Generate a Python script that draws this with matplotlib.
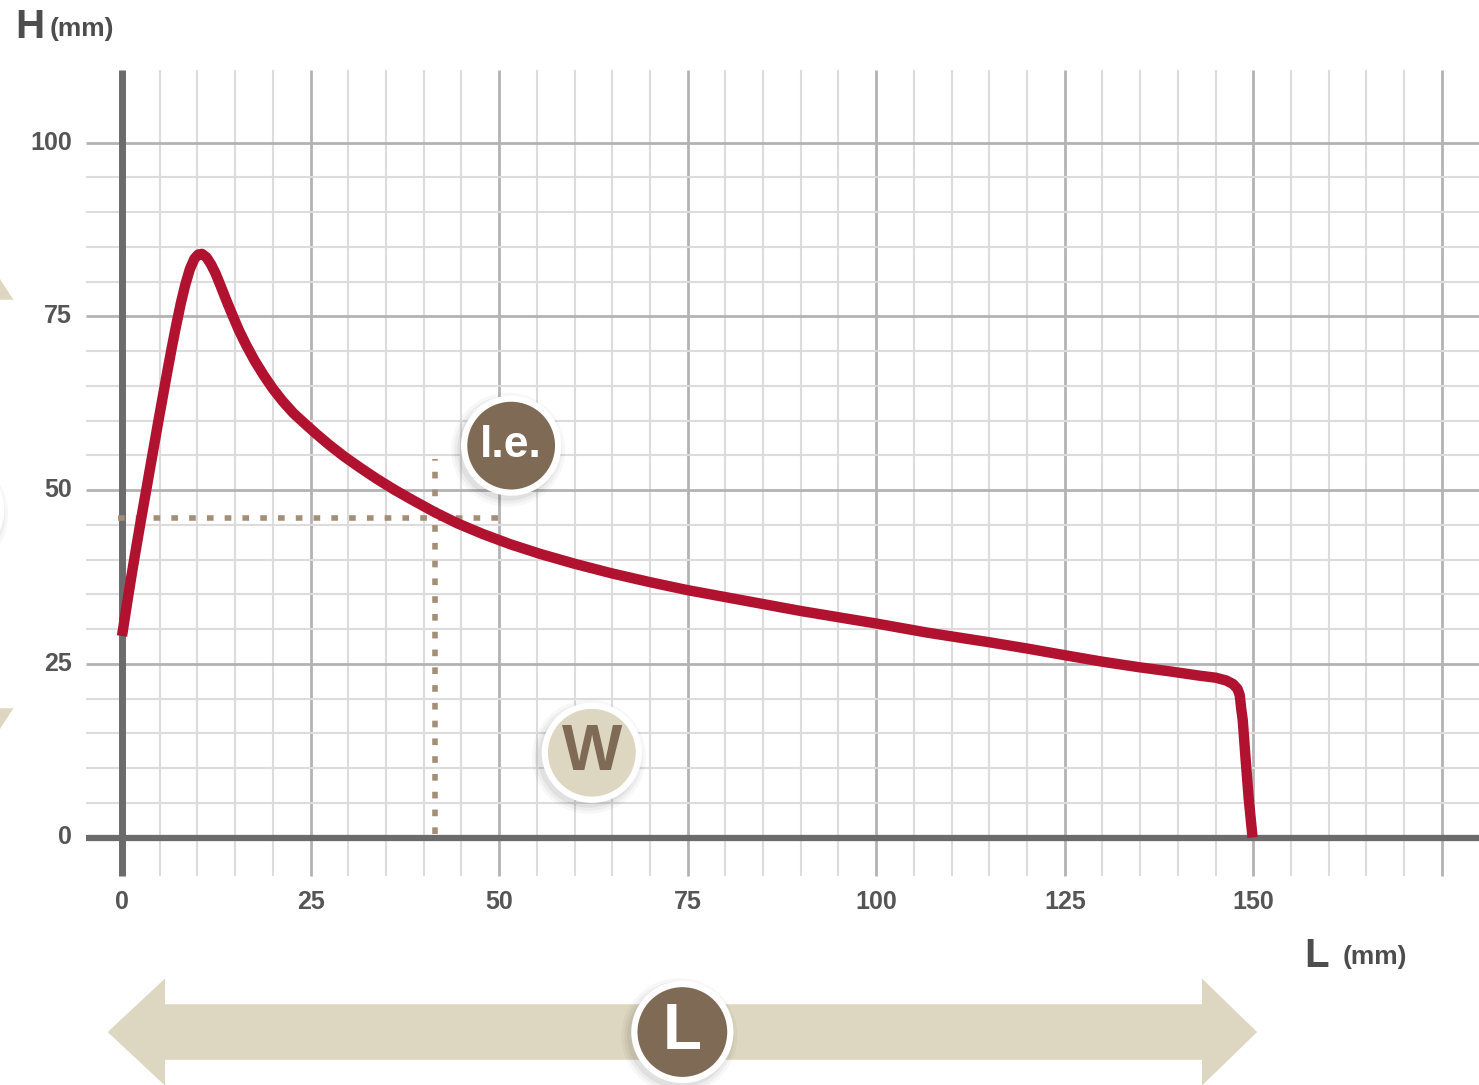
import matplotlib
matplotlib.use("Agg")
import matplotlib.pyplot as plt
from matplotlib.patches import Ellipse, Polygon

# curve (L in mm, H in mm)
curve_x = [0, 0.6, 1.2, 1.8, 2.4, 3.0, 3.6, 4.2, 4.8, 5.4, 6.0, 6.6, 7.2, 7.8,
           8.4, 9.0, 9.6, 10.1, 10.6, 11.2, 11.8, 12.4, 13.0, 13.8, 14.6, 15.5,
           16.5, 17.6, 18.8, 20.0, 21.3, 22.7, 24.2, 25.8, 27.6, 29.5, 31.6,
           33.8, 36.2, 38.8, 41.5, 44.5, 47.8, 51.5, 55.5, 60.0, 65.0, 70.0,
           75.0, 80.0, 85.0, 90.0, 95.0, 100.0, 106.7, 115.0, 120.0, 125.2,
           130.0, 134.9, 139.0, 142.8, 145.0, 146.4, 147.3, 147.9, 148.2, 148.4,
           148.6, 149.0, 149.4, 149.9]
curve_y = [29.0, 33.2, 37.3, 41.2, 45.0, 48.7, 52.4, 56.1, 59.8, 63.4, 67.0, 70.5,
           73.8, 76.9, 79.6, 81.8, 83.3, 83.9, 84.0, 83.5, 82.5, 81.2, 79.6, 77.4,
           75.3, 73.0, 70.8, 68.6, 66.5, 64.6, 62.8, 61.1, 59.6, 58.05, 56.4, 54.8,
           53.2, 51.6, 50.0, 48.4, 46.8, 45.2, 43.7, 42.2, 40.8, 39.4, 38.0, 36.75,
           35.6, 34.6, 33.6, 32.6, 31.7, 30.8, 29.5, 28.1, 27.2, 26.2, 25.3, 24.5,
           23.9, 23.3, 23.0, 22.6, 22.1, 21.4, 20.5, 18.5, 16.9, 11.0, 5.5, 0.0]

x_ticks = [0, 25, 50, 75, 100, 125, 150]
y_ticks = [0, 25, 50, 75, 100]
le_x, le_y = 41.5, 46.0

RED = "#b1122f"
BROWN = "#7f6a55"
BEIGE = "#ddd7c1"
AXIS = "#6b6b6b"
TXT = "#555555"
FONT = ["Liberation Sans", "DejaVu Sans"]

# px per mm on the reference
SX, SY = 7.542, 6.948

fig = plt.figure(figsize=(14.79, 10.85), dpi=100)
ax = fig.add_axes([0, 0, 1, 1])
ax.set_xlim(-122 / SX, (1479 - 122) / SX)
ax.set_ylim(-(1085 - 837.5) / SY, 837.5 / SY)
ax.axis("off")

# grid
for gx in range(5, 180, 5):
    major = gx % 25 == 0
    ax.plot([gx, gx], [-5.5, 110.5], color="#b3b3b3" if major else "#dcdcdc",
            lw=2.0 if major else 1.5, zorder=1, solid_capstyle="butt")
for gy in range(5, 101, 5):
    major = gy % 25 == 0
    ax.plot([-4.8, 180], [gy, gy], color="#b3b3b3" if major else "#dcdcdc",
            lw=2.0 if major else 1.5, zorder=1, solid_capstyle="butt")

# axes lines
ax.plot([0, 0], [-5.5, 110.5], color=AXIS, lw=5, zorder=3, solid_capstyle="butt")
ax.plot([-4.8, 180], [0, 0], color=AXIS, lw=4.5, zorder=3, solid_capstyle="butt")

# tick labels
for t in y_ticks:
    ax.text(-6.6, t, str(t), ha="right", va="center", fontsize=18,
            fontweight="bold", color=TXT, family=FONT)
for t in x_ticks:
    ax.text(t, -9.3, str(t), ha="center", va="center", fontsize=18,
            fontweight="bold", color=TXT, family=FONT)

ax.text(-14.2, 116.6, "H", ha="left", va="center", fontsize=29,
        fontweight="bold", color="#4d4d4d", family=FONT)
ax.text(-9.6, 116.4, "(mm)", ha="left", va="center", fontsize=19,
        fontweight="bold", color="#4d4d4d", family=FONT)
ax.text(156.8, -17.0, "L", ha="left", va="center", fontsize=29,
        fontweight="bold", color="#4d4d4d", family=FONT)
ax.text(161.9, -17.2, "(mm)", ha="left", va="center", fontsize=19,
        fontweight="bold", color="#4d4d4d", family=FONT)

# dotted guide lines
ax.plot([-0.5, 50], [le_y, le_y], color="#a48e78", lw=4.0,
        linestyle=(0, (1.2, 2.0)), zorder=4)
ax.plot([le_x, le_x], [0.5, 54.5], color="#a48e78", lw=4.0,
        linestyle=(0, (1.2, 2.0)), zorder=4)

# curve
ax.plot(curve_x, curve_y, color=RED, lw=7.5, solid_joinstyle="round",
        solid_capstyle="butt", zorder=5)


def badge(cx, cy, label, face, tcolor, fsize, r=48):
    w, h = 2 * r / SX, 2 * r / SY
    for k, a in [(10, 0.03), (7, 0.04), (4, 0.05)]:
        ax.add_patch(Ellipse((cx - 3 / SX, cy - 4 / SY), w + 2 * k / SX,
                             h + 2 * k / SY, color="black", alpha=a, lw=0,
                             zorder=6))
    ax.add_patch(Ellipse((cx, cy), w, h, facecolor=face, edgecolor="white",
                         lw=4.5, zorder=7))
    ax.text(cx, cy, label, ha="center", va="center", fontsize=fsize,
            fontweight="bold", color=tcolor, family=FONT, zorder=8)


# bottom double arrow
ac, sh, hh = -28.0, 4.0, 7.7
arrow = [(-1.9, ac), (5.7, ac + hh), (5.7, ac + sh), (143.2, ac + sh),
         (143.2, ac + hh), (150.5, ac), (143.2, ac - hh), (143.2, ac - sh),
         (5.7, ac - sh), (5.7, ac - hh)]
ax.add_patch(Polygon(arrow, closed=True, facecolor=BEIGE, edgecolor="none",
                     zorder=2))

# vertical arrow and badge, only their edges show at the left of the picture
vx = -24.3
ax.add_patch(Polygon([(vx, 94.0), (vx + 9.9, 77.4), (vx - 9.9, 77.4)],
                     closed=True, facecolor=BEIGE, edgecolor="none", zorder=2))
ax.add_patch(Polygon([(vx, 2.0), (vx + 9.9, 18.6), (vx - 9.9, 18.6)],
                     closed=True, facecolor=BEIGE, edgecolor="none", zorder=2))
badge(-22.4, 47.1, "", BROWN, "white", 10)

badge(51.6, 56.4, "l.e.", BROWN, "white", 32, r=47)
badge(62.3, 12.2, "W", BEIGE, BROWN, 46, r=47)
badge(74.3, -28.0, "L", BROWN, "white", 46, r=48)

fig.savefig("out.png", dpi=100)
